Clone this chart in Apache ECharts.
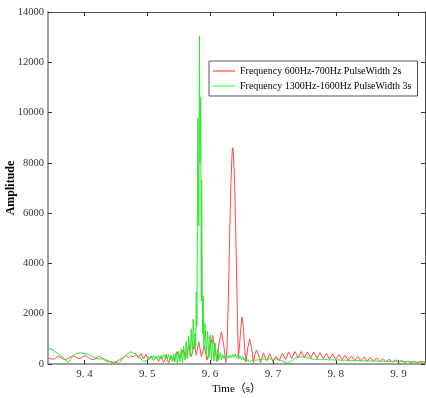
<!DOCTYPE html>
<html><head><meta charset="utf-8">
<script src="https://cdn.jsdelivr.net/npm/echarts@6/dist/echarts.min.js"></script>
<style>html,body{margin:0;padding:0;background:#fff}#c{width:426px;height:398px}</style>
</head><body><div id="c"></div>
<script>
const xTicks = [9.4, 9.5, 9.6, 9.7, 9.8, 9.9];
const seriesNames = ['Frequency 600Hz-700Hz PulseWidth 2s', 'Frequency 1300Hz-1600Hz PulseWidth 3s'];
const redData = [
[9.342,250],[9.346,210],[9.350,190],[9.354,230],[9.358,300],[9.362,270],[9.366,200],[9.370,170],[9.374,220],[9.378,290],[9.382,320],[9.386,280],[9.390,210],[9.394,230],[9.398,300],[9.402,330],[9.406,270],[9.410,200],[9.414,170],[9.418,230],[9.422,300],[9.426,270],[9.430,190],[9.434,130],[9.438,90],[9.442,110],[9.446,60],[9.450,80],[9.454,140],[9.458,200],[9.462,260],[9.466,330],[9.470,250],[9.474,330],[9.478,280],[9.482,380],[9.486,250],[9.490,420],[9.494,200],[9.498,380],[9.502,160],[9.506,320],[9.510,130],[9.514,300],[9.518,100],[9.522,280],[9.526,60],[9.530,300],[9.534,40],[9.538,320],[9.542,150],[9.547,490],[9.552,200],[9.557,560],[9.561,250],[9.566,720],[9.570,300],[9.575,800],[9.578,350],[9.582,890],[9.586,300],[9.591,700],[9.595,150],[9.599,500],[9.604,1150],[9.608,600],[9.611,100],[9.614,800],[9.618,1280],[9.622,700],[9.625,50],
[9.627,700],[9.629,2600],[9.631,5000],[9.633,7100],[9.635,8400],[9.636,8600],[9.637,8450],[9.639,7200],[9.641,5000],[9.643,2500],[9.645,200],[9.647,800],[9.649,1500],[9.651,1870],[9.653,1450],[9.655,600],[9.657,80],[9.660,650],[9.663,990],[9.666,650],[9.669,60],[9.671,380],[9.674,550],[9.677,350],[9.680,60],
[9.685,430],[9.690,120],[9.695,400],[9.700,90],[9.705,300],[9.710,130],[9.715,430],[9.720,180],[9.725,480],[9.730,220],[9.735,500],[9.740,240],[9.745,500],[9.750,240],[9.755,480],[9.760,240],[9.765,470],[9.770,230],[9.775,450],[9.780,220],[9.785,430],[9.790,200],[9.795,400],[9.800,180],[9.805,370],[9.810,170],[9.815,340],[9.820,150],[9.825,320],[9.830,140],[9.835,300],[9.840,130],[9.845,280],[9.850,120],[9.855,260],[9.860,110],[9.865,240],[9.870,100],[9.875,220],[9.880,90],[9.885,190],[9.890,80],[9.895,170],[9.900,70],[9.905,140],[9.910,60],[9.915,110],[9.920,40],[9.925,100],[9.930,50],[9.935,90],[9.940,30],[9.942,60]
];
const greenData = [
[9.342,620],[9.346,600],[9.350,560],[9.354,490],[9.358,410],[9.362,330],[9.366,250],[9.370,160],[9.374,60],[9.378,190],[9.382,320],[9.386,400],[9.390,430],[9.394,440],[9.398,420],[9.402,420],[9.406,390],[9.410,350],[9.414,290],[9.418,240],[9.422,210],[9.426,190],[9.430,230],[9.434,170],[9.438,130],[9.442,70],[9.446,40],[9.450,70],[9.454,30],[9.458,110],[9.462,240],[9.466,350],[9.470,430],[9.474,490],[9.478,430],[9.482,410],[9.486,310],[9.490,200],[9.494,90],[9.497,40],[9.500,160],
[9.502,300],[9.504,180],[9.506,320],[9.508,200],[9.510,340],[9.512,220],[9.514,300],[9.516,180],[9.518,330],[9.520,200],[9.522,350],[9.524,230],[9.526,380],[9.528,250],[9.530,400],[9.532,200],[9.534,380],[9.536,150],[9.538,350],[9.540,100],[9.542,400],[9.544,80],[9.546,450],[9.548,30],[9.550,520],[9.552,100],[9.554,600],[9.556,50],[9.558,700],[9.560,150],[9.562,900],[9.564,200],[9.566,1100],[9.568,300],[9.570,1400],[9.572,400],[9.573,1790],[9.575,600],[9.576,1200],[9.577,700],[9.578,2880],[9.579,1500],
[9.5805,9800],[9.582,5500],[9.583,13050],[9.584,8000],[9.585,10600],[9.586,2500],[9.5865,7300],[9.588,1200],[9.589,2700],[9.590,600],[9.592,1630],[9.594,300],[9.596,1300],[9.598,250],[9.600,1150],[9.602,150],[9.604,950],[9.606,120],[9.608,830],[9.610,100],[9.612,600],[9.614,150],[9.616,450],[9.618,180],[9.620,380],[9.622,220],[9.624,330],[9.626,200],[9.628,340],[9.630,230],[9.632,360],[9.634,250],[9.636,380],[9.638,260],[9.640,400],[9.642,250],[9.644,360],[9.646,220],[9.648,320],[9.650,180],[9.652,300],[9.654,150],[9.656,250],[9.658,100],[9.660,180],[9.663,80],[9.666,160],[9.669,100],[9.672,150],[9.675,110],[9.678,170],[9.681,130],[9.684,200],[9.687,140],[9.690,190],[9.693,150],[9.696,210],[9.700,180],[9.704,220],[9.708,170],[9.712,150],[9.716,110],[9.720,60],[9.724,40],[9.728,90],[9.732,170],[9.736,240],[9.740,270],[9.744,290],[9.748,280],[9.752,260],[9.756,240],[9.760,210],[9.765,190],[9.770,180],[9.775,200],[9.780,170],[9.785,180],[9.790,160],[9.795,170],[9.800,150],[9.805,170],[9.810,140],[9.815,160],[9.820,130],[9.825,150],[9.830,120],[9.835,140],[9.840,120],[9.845,130],[9.850,110],[9.855,130],[9.860,110],[9.865,120],[9.870,100],[9.875,120],[9.880,100],[9.885,110],[9.890,90],[9.895,110],[9.900,90],[9.905,100],[9.910,80],[9.915,100],[9.920,80],[9.925,90],[9.930,70],[9.935,90],[9.942,80]
];

const FONT = '"Liberation Serif", "Noto Sans CJK SC", serif';
const chart = echarts.init(document.getElementById('c'), null, {renderer: 'canvas'});
const xCommon = {type: 'value', min: 9.342, max: 9.942, splitLine: {show: false}};
chart.setOption({
  animation: false,
  backgroundColor: '#fff',
  grid: {left: 48, top: 12, right: 1, bottom: 34, containLabel: false, outerBoundsMode: 'none'},
  legend: {
    orient: 'vertical', left: 209, top: 61,
    borderColor: '#555', borderWidth: 1, padding: [5, 6, 5, 4],
    itemGap: 5, itemWidth: 22, itemHeight: 2, icon: 'rect',
    textStyle: {fontFamily: FONT, fontSize: 10, color: '#000'},
    data: [
      {name: seriesNames[0], itemStyle: {color: '#ff9090'}},
      {name: seriesNames[1], itemStyle: {color: '#90ff90'}}
    ]
  },
  xAxis: [
    Object.assign({}, xCommon, {
      position: 'bottom',
      name: 'Time（s）', nameLocation: 'middle', nameGap: 20, nameMoveOverlap: false,
      nameTextStyle: {fontFamily: FONT, fontSize: 11, color: '#000'},
      axisLine: {show: true, lineStyle: {color: '#a0a0a0', width: 2}},
      axisTick: {show: true, inside: true, length: 4, customValues: xTicks, lineStyle: {color: '#333'}},
      axisLabel: {customValues: xTicks, fontFamily: FONT, fontSize: 11, color: '#333', margin: 5,
        formatter: v => v.toFixed(1).replace('.', '. ')}
    }),
    Object.assign({}, xCommon, {
      position: 'top',
      axisLine: {show: true, onZero: false, lineStyle: {color: '#555', width: 1}},
      axisTick: {show: true, inside: true, length: 4, customValues: xTicks, lineStyle: {color: '#333'}},
      axisLabel: {show: false}
    })
  ],
  yAxis: [
    {type: 'value', min: 0, max: 14000, interval: 2000, position: 'left',
     name: 'Amplitude', nameLocation: 'middle', nameGap: 31, nameMoveOverlap: false,
     nameTextStyle: {fontFamily: FONT, fontSize: 12, fontWeight: 'bold', color: '#000'},
     splitLine: {show: false},
     axisLine: {show: true, lineStyle: {color: '#a0a0a0', width: 2}},
     axisTick: {show: true, inside: true, length: 4, lineStyle: {color: '#333'}},
     axisLabel: {fontFamily: FONT, fontSize: 10.5, color: '#333', margin: 4, formatter: v => String(v)}},
    {type: 'value', min: 0, max: 14000, interval: 2000, position: 'right',
     splitLine: {show: false},
     axisLine: {show: true, onZero: false, lineStyle: {color: '#555', width: 1}},
     axisTick: {show: true, inside: true, length: 4, lineStyle: {color: '#333'}},
     axisLabel: {show: false}}
  ],
  series: [
    {name: seriesNames[0], type: 'line', data: redData, showSymbol: false, symbol: 'none',
     lineStyle: {color: '#ff4a4a', width: 1}, itemStyle: {color: '#ff4a4a'}, clip: true},
    {name: seriesNames[1], type: 'line', data: greenData, showSymbol: false, symbol: 'none',
     lineStyle: {color: '#2ee82e', width: 1}, itemStyle: {color: '#2ee82e'}, clip: true}
  ]
});
</script></body></html>
